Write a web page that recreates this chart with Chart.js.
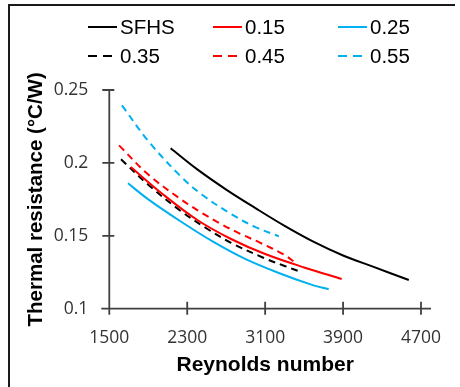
<!DOCTYPE html>
<html>
<head>
<meta charset="utf-8">
<script src="https://cdn.jsdelivr.net/npm/chart.js@4.4.0/dist/chart.umd.min.js"></script>
<style>
html,body{margin:0;padding:0;background:#fff;}
#wrap{position:relative;width:460px;height:387px;overflow:hidden;background:#fff;}
#frame{position:absolute;left:8px;top:4px;width:447px;height:400px;border-left:2px solid #1a1a1a;border-top:2px solid #1a1a1a;box-sizing:border-box;}
#c{position:absolute;left:0;top:0;}
.item{position:absolute;height:24px;display:flex;align-items:center;font:20.5px "Liberation Sans",Arial,sans-serif;color:#000;white-space:nowrap;}
.item svg{display:block;margin-right:3px;}
</style>
</head>
<body>
<div id="wrap">
  <div id="frame"></div>
  <canvas id="c" width="460" height="387" style="width:460px;height:387px"></canvas>
  <div id="legend"></div>
</div>
<script>
// ---- data ----
const seriesNames = ['SFHS', '0.15', '0.25', '0.35', '0.45', '0.55'];
const seriesColors = ['#000000', '#ff0000', '#00b0f0', '#000000', '#ff0000', '#00b0f0'];
const seriesDashed = [false, false, false, true, true, true];

const reSFHS = [2130, 2400, 2700, 3000, 3300, 3600, 3900, 4200, 4575];
const rSFHS  = [0.2100, 0.1957, 0.1817, 0.1690, 0.1568, 0.1458, 0.1365, 0.1290, 0.1197];

const re015 = [1720, 2050, 2400, 2750, 3100, 3500, 3886];
const r015  = [0.1972, 0.1785, 0.1610, 0.1478, 0.1375, 0.1283, 0.1204];

const re025 = [1692, 1900, 2230, 2565, 2900, 3240, 3574, 3752];
const r025  = [0.1860, 0.1750, 0.1600, 0.1460, 0.1340, 0.1245, 0.1165, 0.1133];

const re035 = [1620, 1900, 2230, 2500, 2750, 3087, 3300, 3470];
const r035  = [0.2025, 0.1850, 0.1672, 0.1550, 0.1452, 0.1348, 0.1293, 0.1252];

const re045 = [1600, 1900, 2230, 2450, 2650, 2850, 3050, 3290, 3405];
const r045  = [0.2120, 0.1920, 0.1753, 0.1657, 0.1580, 0.1512, 0.1452, 0.1372, 0.1318];

const re055 = [1630, 1900, 2230, 2450, 2750, 3000, 3240];
const r055  = [0.2395, 0.2150, 0.1910, 0.1783, 0.1650, 0.1560, 0.1497];

const xTicks = [1500, 2300, 3100, 3900, 4700];
const xTickLabels = ['1500', '2300', '3100', '3900', '4700'];
const yTicks = [0.1, 0.15, 0.2, 0.25];
const yTickLabels = ['0.1', '0.15', '0.2', '0.25'];

const xTitle = 'Reynolds number';
const yTitle = 'Thermal resistance (°C/W)';

// ---- build ----
const xs = [reSFHS, re015, re025, re035, re045, re055];
const ys = [rSFHS, r015, r025, r035, r045, r055];

const datasets = seriesNames.map((name, i) => ({
  label: name,
  data: xs[i].map((v, j) => ({x: v, y: ys[i][j]})),
  borderColor: seriesColors[i],
  backgroundColor: seriesColors[i],
  borderWidth: 2,
  borderDash: seriesDashed[i] ? [7, 5] : [],
  pointRadius: 0,
  fill: false,
  tension: 0.35
}));

const axesPlugin = {
  id: 'crossAxes',
  beforeDatasetsDraw(chart) {
    const {ctx, scales: {x, y}} = chart;
    const x0 = x.getPixelForValue(xTicks[0]);
    const x1 = x.getPixelForValue(xTicks[xTicks.length - 1]);
    const y0 = y.getPixelForValue(yTicks[0]);
    const y1 = y.getPixelForValue(yTicks[yTicks.length - 1]);
    ctx.save();
    ctx.strokeStyle = '#404040';
    ctx.lineWidth = 1.8;
    ctx.beginPath();
    ctx.moveTo(x0 - 8, y0); ctx.lineTo(x1 + 10, y0);
    ctx.moveTo(x0, y1); ctx.lineTo(x0, y0 + 6);
    xTicks.forEach(v => { const p = x.getPixelForValue(v); ctx.moveTo(p, y0 - 7); ctx.lineTo(p, y0 + 6); });
    yTicks.forEach(v => { const p = y.getPixelForValue(v); ctx.moveTo(x0 - 7, p); ctx.lineTo(x0 + 5, p); });
    ctx.stroke();
    ctx.restore();
  }
};

new Chart(document.getElementById('c'), {
  type: 'line',
  data: {datasets},
  options: {
    responsive: false,
    animation: false,
    devicePixelRatio: 1,
    layout: {padding: {left: 14, top: 90, right: 33.3, bottom: 0}},
    plugins: {legend: {display: false}, tooltip: {enabled: false}},
    scales: {
      x: {
        type: 'linear', min: 1500, max: 4700,
        afterBuildTicks: s => { s.ticks = xTicks.map(v => ({value: v})); },
        afterFit: s => { s.height = 78.3; },
        grid: {display: false, drawTicks: false},
        border: {display: false},
        ticks: {
          padding: 19, autoSkip: false, maxRotation: 0, color: '#333',
          font: {family: 'Open Sans', size: 17.5},
          callback: (v) => xTickLabels[xTicks.indexOf(v)]
        },
        title: {display: true, text: xTitle, color: '#000',
          font: {family: 'Liberation Sans', size: 21, weight: 'bold'},
          padding: {top: 0, bottom: 9}}
      },
      y: {
        type: 'linear', min: 0.1, max: 0.25,
        afterBuildTicks: s => { s.ticks = yTicks.map(v => ({value: v})); },
        afterFit: s => { s.width = 95.3; },
        grid: {display: false, drawTicks: false},
        border: {display: false},
        ticks: {
          padding: 21, autoSkip: false, color: '#333',
          font: {family: 'Open Sans', size: 17.5},
          callback: (v) => { const k = yTicks.findIndex(t => Math.abs(t - v) < 1e-9); return k >= 0 ? yTickLabels[k] : ''; }
        },
        title: {display: true, text: yTitle, color: '#000',
          font: {family: 'Liberation Sans', size: 20.5, weight: 'bold'},
          padding: {top: 10, bottom: 0}}
      }
    }
  },
  plugins: [axesPlugin]
});

// ---- legend (3 columns x 2 rows) ----
const legend = document.getElementById('legend');
const colX = [88, 213, 338];
const rowY = [27, 56];
seriesNames.forEach((name, i) => {
  const col = i % 3, row = Math.floor(i / 3);
  const div = document.createElement('div');
  div.className = 'item';
  div.style.left = colX[col] + 'px';
  div.style.top = (rowY[row] - 12) + 'px';
  const dash = seriesDashed[i] ? ' stroke-dasharray="9 6"' : '';
  div.innerHTML = '<svg width="29" height="4"><line x1="0" y1="2" x2="29" y2="2" stroke="' + seriesColors[i] + '" stroke-width="2"' + dash + '/></svg>';
  const span = document.createElement('span');
  span.textContent = name;
  div.appendChild(span);
  legend.appendChild(div);
});
</script>
</body>
</html>
